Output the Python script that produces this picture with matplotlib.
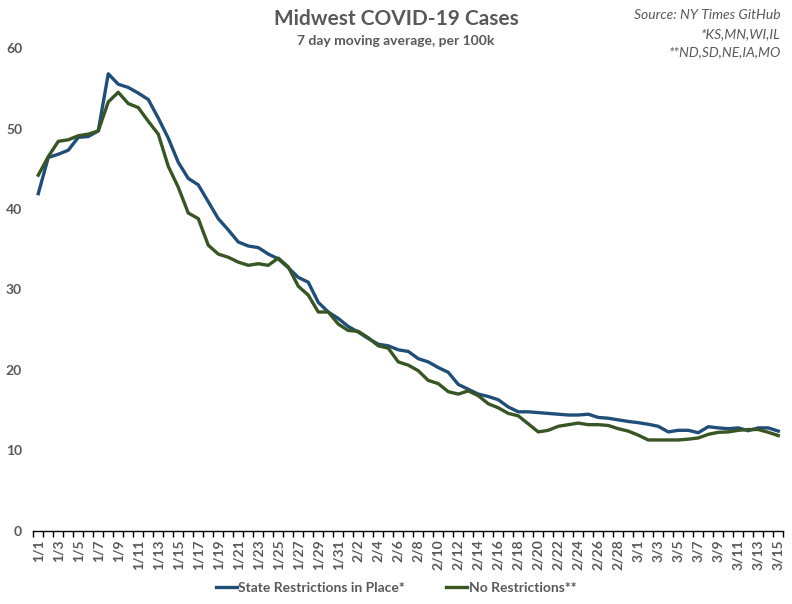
import numpy as np
import matplotlib.pyplot as plt

# categories: 1/1 .. 2/29 .. 3/15 (75 days, as in the source sheet)
days_per_month = [(1, 31), (2, 29), (3, 15)]
dates = [f"{m}/{d}" for m, n in days_per_month for d in range(1, n + 1)]

state_restrictions = [
    41.9, 46.4, 46.8, 47.3, 48.9, 49.0, 49.7, 56.8, 55.5, 55.1,
    54.4, 53.6, 51.3, 48.8, 45.8, 43.8, 43.0, 40.9, 38.8, 37.4,
    35.9, 35.4, 35.2, 34.4, 33.8, 32.7, 31.5, 30.9, 28.4, 27.2,
    26.4, 25.4, 24.7, 23.9, 23.2, 23.0, 22.5, 22.3, 21.4, 21.0,
    20.3, 19.7, 18.2, 17.6, 17.0, 16.7, 16.3, 15.4, 14.8, 14.8,
    14.7, 14.6, 14.5, 14.4, 14.4, 14.5, 14.1, 14.0, 13.8, 13.6,
    13.45, 13.25, 13.0, 12.3, 12.5, 12.5, 12.2, 12.95, 12.8, 12.7,
    12.8, 12.45, 12.8, 12.8, 12.4,
]
no_restrictions = [
    44.2, 46.5, 48.4, 48.6, 49.1, 49.3, 49.7, 53.3, 54.5, 53.1,
    52.6, 50.9, 49.3, 45.3, 42.7, 39.5, 38.8, 35.5, 34.4, 34.0,
    33.4, 33.0, 33.2, 33.0, 33.9, 32.8, 30.4, 29.3, 27.2, 27.2,
    25.7, 24.9, 24.8, 24.0, 23.0, 22.7, 21.0, 20.6, 19.9, 18.7,
    18.3, 17.3, 17.0, 17.4, 16.8, 15.8, 15.3, 14.6, 14.3, 13.3,
    12.3, 12.5, 13.0, 13.2, 13.4, 13.2, 13.2, 13.1, 12.7, 12.4,
    11.9, 11.3, 11.3, 11.3, 11.3, 11.4, 11.55, 12.0, 12.25, 12.3,
    12.5, 12.6, 12.6, 12.25, 11.85,
]

BLUE = '#1f4e79'
GREEN = '#375623'
GRAY = '#595959'
plt.rcParams['font.family'] = ['Lato', 'DejaVu Sans']

fig = plt.figure(figsize=(7.92, 6.04), dpi=100)
ax = fig.add_axes([0.042, 0.121, 0.947, 0.7995])

x = np.arange(len(dates))
ax.plot(x, state_restrictions, color=BLUE, lw=2.4, label='State Restrictions in Place*')
ax.plot(x, no_restrictions, color=GREEN, lw=2.4, label='No Restrictions**')

ax.set_xlim(-0.5, len(dates) - 0.5)
ax.set_ylim(0, 60)
ax.set_yticks(range(0, 61, 10))
ax.tick_params(axis='y', length=0, pad=8, labelsize=10, labelcolor=GRAY)
for t in ax.get_yticklabels():
    t.set_fontweight('bold')

ax.set_xticks(x[::2])
ax.set_xticklabels(dates[::2], rotation=90, fontsize=10, color=GRAY, fontweight='bold')
ax.set_xticks(np.arange(-0.5, len(dates), 1), minor=True)
ax.tick_params(axis='x', which='major', length=0, pad=6)
ax.tick_params(axis='x', which='minor', length=4, width=1, color='black')

for s in ['top', 'right', 'left']:
    ax.spines[s].set_visible(False)
ax.spines['bottom'].set_color('black')
ax.spines['bottom'].set_linewidth(1)

fig.text(0.5, 0.968, 'Midwest COVID-19 Cases', ha='center', va='center',
         fontsize=15, fontweight='bold', color=GRAY)
fig.text(0.5, 0.932, '7 day moving average, per 100k', ha='center', va='center',
         fontsize=10, fontweight='bold', color=GRAY)
notes = ['Source: NY Times GitHub', '*KS,MN,WI,IL', '**ND,SD,NE,IA,MO']
for i, line in enumerate(notes):
    fig.text(0.986, 0.975 - i * 0.031, line, ha='right', va='center',
             fontsize=10, style='italic', color=GRAY)

leg = fig.legend(loc='center', bbox_to_anchor=(0.5, 0.027), ncol=2, frameon=False,
                 handlelength=1.5, handletextpad=0.1, columnspacing=3.0,
                 prop={'size': 10, 'weight': 'bold'})
for t in leg.get_texts():
    t.set_color(GRAY)

fig.savefig('out.png', dpi=100)
